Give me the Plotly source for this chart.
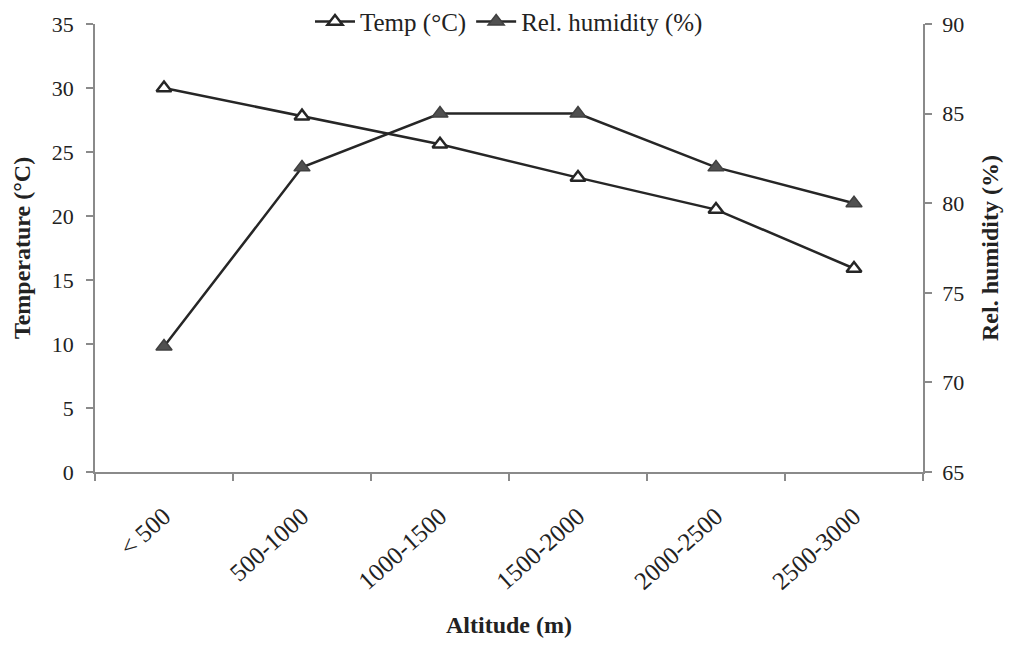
import plotly.graph_objects as go

altitude = ["< 500", "500-1000", "1000-1500", "1500-2000", "2000-2500", "2500-3000"]
temp_c = [30.0, 27.8, 25.6, 23.0, 20.5, 15.9]
rel_humidity = [72, 82, 85, 85, 82, 80]

FONT = "Liberation Serif"
LINE = "#262626"
AXIS = "#8a8a8a"
TEXT = "#222222"

fig = go.Figure()
fig.add_trace(go.Scatter(
    x=altitude, y=temp_c, name="Temp (°C)", mode="lines+markers",
    line=dict(color=LINE, width=2.5),
    marker=dict(symbol="triangle-up", size=13, color="white",
                line=dict(color=LINE, width=2.5)),
))
fig.add_trace(go.Scatter(
    x=altitude, y=rel_humidity, name="Rel. humidity (%)", mode="lines+markers",
    yaxis="y2",
    line=dict(color=LINE, width=2.5),
    marker=dict(symbol="triangle-up", size=14, color="#505050",
                line=dict(color="#404040", width=1.5)),
))

axis_common = dict(
    showline=True, linecolor=AXIS, linewidth=1.5,
    ticks="outside", ticklen=7, tickcolor=AXIS, tickwidth=1.5,
    showgrid=False, zeroline=False,
)

fig.update_layout(
    width=1009, height=658,
    margin=dict(l=95, r=86, t=24, b=186, autoexpand=False),
    paper_bgcolor="white", plot_bgcolor="white",
    font=dict(family=FONT, size=22, color=TEXT),
    showlegend=True,
    legend=dict(orientation="h", x=0.5, xanchor="center", y=1.005, yanchor="middle",
                font=dict(family=FONT, size=25, color=TEXT),
                itemwidth=40, tracegroupgap=0, bgcolor="rgba(0,0,0,0)"),
    xaxis=dict(
        type="category", range=[-0.5, 5.5], tickson="boundaries",
        tickangle=-42, ticklabelstandoff=18,
        tickfont=dict(family=FONT, size=25, color=TEXT),
        title=dict(text="<b>Altitude (m)</b>", font=dict(family=FONT, size=24), standoff=22),
        **axis_common,
    ),
    yaxis=dict(
        range=[0, 35], dtick=5, ticklabelstandoff=8,
        tickfont=dict(family=FONT, size=22, color=TEXT),
        title=dict(text="<b>Temperature (°C)</b>", font=dict(family=FONT, size=24), standoff=14),
        **axis_common,
    ),
    yaxis2=dict(
        range=[65, 90], dtick=5, overlaying="y", side="right", ticklabelstandoff=6,
        tickfont=dict(family=FONT, size=22, color=TEXT),
        title=dict(text="<b>Rel. humidity (%)</b>", font=dict(family=FONT, size=24), standoff=18),
        **axis_common,
    ),
)

fig.write_html("out.html")
